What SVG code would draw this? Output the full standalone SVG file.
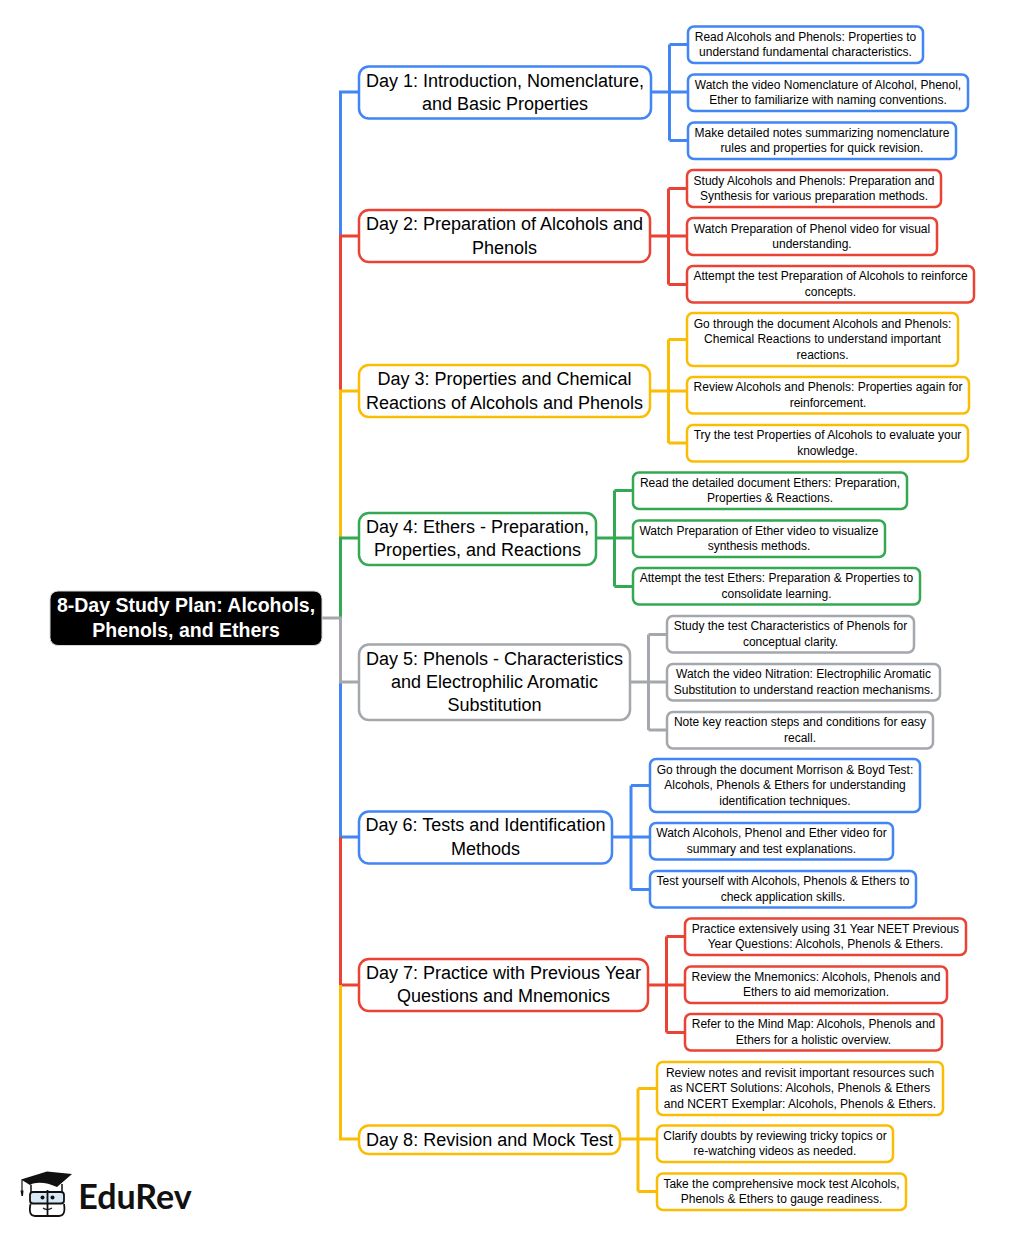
<svg xmlns="http://www.w3.org/2000/svg" width="1026" height="1236" viewBox="0 0 1026 1236">
<style>
text{font-family:"Liberation Sans",Arial,sans-serif;fill:#000;text-anchor:middle}
.d{font-size:18px}.l{font-size:12px}
.r{font-size:19.500px;font-weight:700;fill:#fff}
rect{fill:#fff;stroke-width:2.5}
.cn path{fill:none;stroke-width:3}
.b{stroke:#4285f4}.e{stroke:#ea4335}.y{stroke:#fbbc04}.g{stroke:#34a853}.k{stroke:#a4a7ab}
</style>
<rect width="1026" height="1236" style="stroke:none"/>
<g id="connectors" class="cn">
<path class="b" d="M340.500 618V92H359"/><path class="e" d="M340.500 618V236H359"/><path class="y" d="M340.500 618V391H359"/><path class="g" d="M340.500 618V538H359"/>
<path class="b" d="M340.500 618V837H359"/><path class="e" d="M340.500 837V985H359"/><path class="y" d="M340.500 985V1139H359"/><path class="k" d="M321 618H340.500V682H359"/>
<path class="b" d="M651 92H688M669.500 44.500V140.500M669.500 44.500H688M669.500 140.500H688"/>
<path class="e" d="M650 236H687M668.500 188.500V284.500M668.500 188.500H687M668.500 284.500H687"/>
<path class="y" d="M650 391H687M668.500 339.500V443M668.500 339.500H687M668.500 443H687"/>
<path class="g" d="M596 538H633M614.500 490.500V586.500M614.500 490.500H633M614.500 586.500H633"/>
<path class="k" d="M630 682H667M648.500 634.500V730M648.500 634.500H667M648.500 730H667"/>
<path class="b" d="M612 837H650M631 785.500V889.500M631 785.500H650M631 889.500H650"/>
<path class="e" d="M648 985H685M666.500 936.500V1032.500M666.500 936.500H685M666.500 1032.500H685"/>
<path class="y" d="M620 1139H657M638 1088.500V1191.500M638 1088.500H657M638 1191.500H657"/>
</g>
<g id="root"><rect x="50" y="591" width="272" height="54.500" rx="8" style="fill:#000;stroke:#d8d8d8;stroke-width:1"/><text class="r" x="186" y="612">8-Day Study Plan: Alcohols,</text><text class="r" x="186" y="637">Phenols, and Ethers</text></g>
<g id="day1"><rect class="b" x="359" y="66.500" width="292" height="52" rx="10"/><text class="d" x="505" y="87">Day 1: Introduction, Nomenclature,</text><text class="d" x="505" y="110">and Basic Properties</text></g>
<g id="day1a"><rect class="b" x="688" y="26.500" width="235" height="36.500" rx="6"/><text class="l" x="805.500" y="41">Read Alcohols and Phenols: Properties to</text><text class="l" x="805.500" y="56">understand fundamental characteristics.</text></g>
<g id="day1b"><rect class="b" x="688" y="74.500" width="280" height="36.500" rx="6"/><text class="l" x="828" y="89">Watch the video Nomenclature of Alcohol, Phenol,</text><text class="l" x="828" y="104">Ether to familiarize with naming conventions.</text></g>
<g id="day1c"><rect class="b" x="688" y="122.500" width="268" height="36.500" rx="6"/><text class="l" x="822" y="137">Make detailed notes summarizing nomenclature</text><text class="l" x="822" y="152">rules and properties for quick revision.</text></g>
<g id="day2"><rect class="e" x="359" y="210" width="291" height="52" rx="10"/><text class="d" x="504.500" y="230">Day 2: Preparation of Alcohols and</text><text class="d" x="504.500" y="254">Phenols</text></g>
<g id="day2a"><rect class="e" x="687" y="170" width="254" height="37" rx="6"/><text class="l" x="814" y="185">Study Alcohols and Phenols: Preparation and</text><text class="l" x="814" y="200">Synthesis for various preparation methods.</text></g>
<g id="day2b"><rect class="e" x="687" y="218" width="250" height="37" rx="6"/><text class="l" x="812" y="233">Watch Preparation of Phenol video for visual</text><text class="l" x="812" y="248">understanding.</text></g>
<g id="day2c"><rect class="e" x="687" y="266" width="287" height="36.500" rx="6"/><text class="l" x="830.500" y="280">Attempt the test Preparation of Alcohols to reinforce</text><text class="l" x="830.500" y="296">concepts.</text></g>
<g id="day3"><rect class="y" x="359" y="365" width="291" height="52" rx="10"/><text class="d" x="504.500" y="385">Day 3: Properties and Chemical</text><text class="d" x="504.500" y="409">Reactions of Alcohols and Phenols</text></g>
<g id="day3a"><rect class="y" x="687" y="313" width="271" height="53" rx="6"/><text class="l" x="822.500" y="328">Go through the document Alcohols and Phenols:</text><text class="l" x="822.500" y="343">Chemical Reactions to understand important</text><text class="l" x="822.500" y="359">reactions.</text></g>
<g id="day3b"><rect class="y" x="687" y="377" width="282" height="36.500" rx="6"/><text class="l" x="828" y="391">Review Alcohols and Phenols: Properties again for</text><text class="l" x="828" y="407">reinforcement.</text></g>
<g id="day3c"><rect class="y" x="687" y="425" width="281" height="36.500" rx="6"/><text class="l" x="827.500" y="439">Try the test Properties of Alcohols to evaluate your</text><text class="l" x="827.500" y="455">knowledge.</text></g>
<g id="day4"><rect class="g" x="359" y="513" width="237" height="52" rx="10"/><text class="d" x="477.500" y="533">Day 4: Ethers - Preparation,</text><text class="d" x="477.500" y="556">Properties, and Reactions</text></g>
<g id="day4a"><rect class="g" x="633" y="472.500" width="274" height="36.500" rx="6"/><text class="l" x="770" y="487">Read the detailed document Ethers: Preparation,</text><text class="l" x="770" y="502">Properties &amp; Reactions.</text></g>
<g id="day4b"><rect class="g" x="633" y="520.500" width="252" height="36.500" rx="6"/><text class="l" x="759" y="535">Watch Preparation of Ether video to visualize</text><text class="l" x="759" y="550">synthesis methods.</text></g>
<g id="day4c"><rect class="g" x="633" y="568" width="287" height="36.500" rx="6"/><text class="l" x="776.500" y="582">Attempt the test Ethers: Preparation &amp; Properties to</text><text class="l" x="776.500" y="598">consolidate learning.</text></g>
<g id="day5"><rect class="k" x="359" y="644.500" width="271" height="75.500" rx="10"/><text class="d" x="494.500" y="665">Day 5: Phenols - Characteristics</text><text class="d" x="494.500" y="688">and Electrophilic Aromatic</text><text class="d" x="494.500" y="711">Substitution</text></g>
<g id="day5a"><rect class="k" x="667" y="616" width="247" height="36.500" rx="6"/><text class="l" x="790.500" y="630">Study the test Characteristics of Phenols for</text><text class="l" x="790.500" y="646">conceptual clarity.</text></g>
<g id="day5b"><rect class="k" x="667" y="664" width="273" height="36.500" rx="6"/><text class="l" x="803.500" y="678">Watch the video Nitration: Electrophilic Aromatic</text><text class="l" x="803.500" y="694">Substitution to understand reaction mechanisms.</text></g>
<g id="day5c"><rect class="k" x="667" y="712" width="266" height="36.500" rx="6"/><text class="l" x="800" y="726">Note key reaction steps and conditions for easy</text><text class="l" x="800" y="742">recall.</text></g>
<g id="day6"><rect class="b" x="359" y="811.500" width="253" height="52" rx="10"/><text class="d" x="485.500" y="831">Day 6: Tests and Identification</text><text class="d" x="485.500" y="855">Methods</text></g>
<g id="day6a"><rect class="b" x="650" y="759" width="270" height="53" rx="6"/><text class="l" x="785" y="774">Go through the document Morrison &amp; Boyd Test:</text><text class="l" x="785" y="789">Alcohols, Phenols &amp; Ethers for understanding</text><text class="l" x="785" y="805">identification techniques.</text></g>
<g id="day6b"><rect class="b" x="650" y="823" width="243" height="36.500" rx="6"/><text class="l" x="771.500" y="837">Watch Alcohols, Phenol and Ether video for</text><text class="l" x="771.500" y="853">summary and test explanations.</text></g>
<g id="day6c"><rect class="b" x="650" y="871" width="266" height="36.500" rx="6"/><text class="l" x="783" y="885">Test yourself with Alcohols, Phenols &amp; Ethers to</text><text class="l" x="783" y="901">check application skills.</text></g>
<g id="day7"><rect class="e" x="359" y="959" width="289" height="52" rx="10"/><text class="d" x="503.500" y="979">Day 7: Practice with Previous Year</text><text class="d" x="503.500" y="1002">Questions and Mnemonics</text></g>
<g id="day7a"><rect class="e" x="685" y="918.500" width="281" height="36.500" rx="6"/><text class="l" x="825.500" y="933">Practice extensively using 31 Year NEET Previous</text><text class="l" x="825.500" y="948">Year Questions: Alcohols, Phenols &amp; Ethers.</text></g>
<g id="day7b"><rect class="e" x="685" y="966.500" width="262" height="36.500" rx="6"/><text class="l" x="816" y="981">Review the Mnemonics: Alcohols, Phenols and</text><text class="l" x="816" y="996">Ethers to aid memorization.</text></g>
<g id="day7c"><rect class="e" x="685" y="1014" width="257" height="36.500" rx="6"/><text class="l" x="813.500" y="1028">Refer to the Mind Map: Alcohols, Phenols and</text><text class="l" x="813.500" y="1044">Ethers for a holistic overview.</text></g>
<g id="day8"><rect class="y" x="359" y="1125.500" width="261" height="28.500" rx="10"/><text class="d" x="489.500" y="1146">Day 8: Revision and Mock Test</text></g>
<g id="day8a"><rect class="y" x="657" y="1062" width="286" height="53" rx="6"/><text class="l" x="800" y="1077">Review notes and revisit important resources such</text><text class="l" x="800" y="1092">as NCERT Solutions: Alcohols, Phenols &amp; Ethers</text><text class="l" x="800" y="1108">and NCERT Exemplar: Alcohols, Phenols &amp; Ethers.</text></g>
<g id="day8b"><rect class="y" x="657" y="1125.500" width="236" height="36.500" rx="6"/><text class="l" x="775" y="1140">Clarify doubts by reviewing tricky topics or</text><text class="l" x="775" y="1155">re-watching videos as needed.</text></g>
<g id="day8c"><rect class="y" x="657" y="1173.500" width="249" height="36.500" rx="6"/><text class="l" x="781.500" y="1188">Take the comprehensive mock test Alcohols,</text><text class="l" x="781.500" y="1203">Phenols &amp; Ethers to gauge readiness.</text></g>
<g id="logo">
<path d="M21 1179.500L47 1171.500L72 1174L57 1187Q44 1181 33 1183.500L30 1185Z" fill="#111"/>
<path d="M22 1180V1191" fill="none" stroke="#111" stroke-width="1.200"/><path d="M20.500 1190.500H23.500L23 1196H21.500Z" fill="#111"/>
<path d="M31 1192V1185M62 1192V1184" stroke="#111" stroke-width="1.500" fill="none"/>
<rect x="30" y="1192" width="34" height="11.500" rx="3" style="fill:#d5e8f7;stroke:#111;stroke-width:1.800"/>
<path d="M47.500 1190V1216M30.500 1204Q28 1216 35 1216H59Q66 1216 64 1204" fill="none" stroke="#111" stroke-width="1.800"/>
<circle cx="42.500" cy="1197.500" r="2" fill="#111"/><circle cx="52.500" cy="1197.500" r="2" fill="#111"/>
<path d="M43 1208Q47 1211 52 1208" fill="none" stroke="#111" stroke-width="1.200"/>
<text x="135" y="1209" style="font-family:Lato,'Liberation Sans',sans-serif;font-size:34px;font-weight:700;fill:#111">EduRev</text>
</g>
</svg>
